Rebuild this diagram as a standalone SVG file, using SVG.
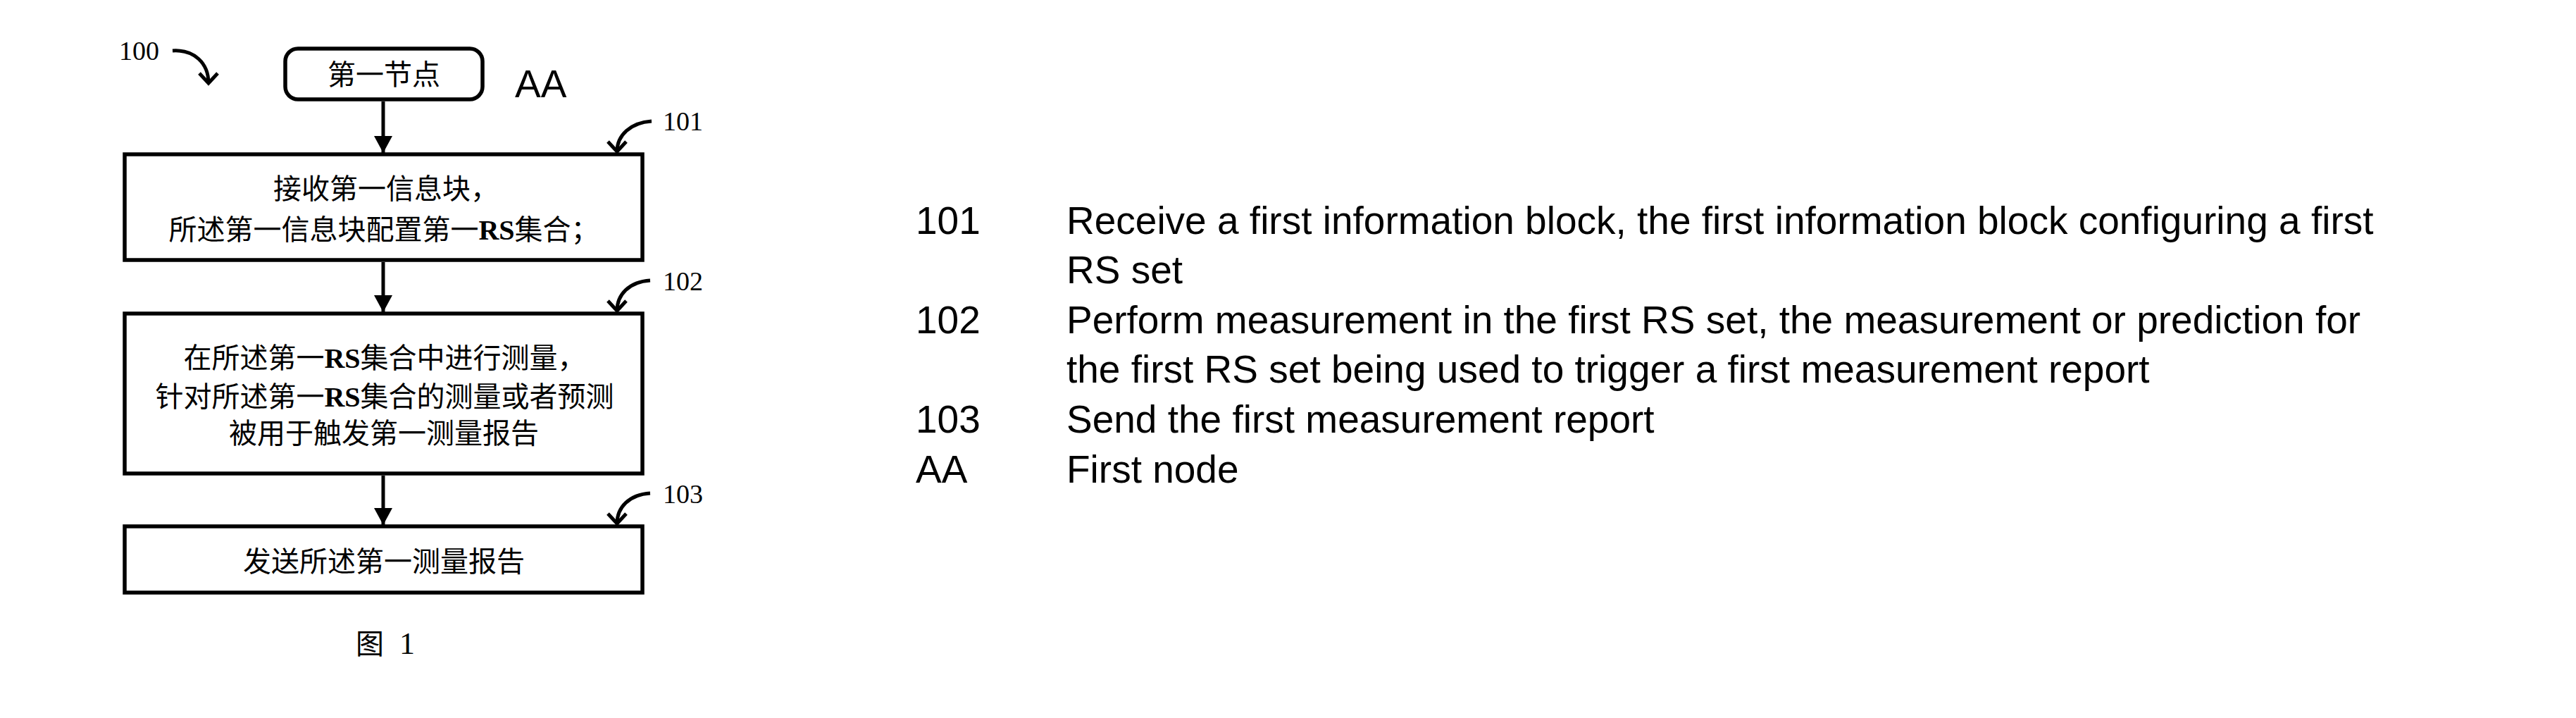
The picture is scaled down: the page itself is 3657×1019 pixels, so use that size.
<svg xmlns="http://www.w3.org/2000/svg" width="3657" height="1019" viewBox="0 0 3657 1019">
  <style>
    .box { fill: #fff; stroke: #000; stroke-width: 5.5; }
    .conn { fill: none; stroke: #000; stroke-width: 5; }
    .cjk { font-family: "Liberation Serif", "Noto Sans CJK SC", serif; font-size: 40px; text-anchor: middle; fill: #000; }
    .rs { font-weight: bold; }
    .lbl { font-family: "Liberation Serif", serif; font-size: 38px; fill: #000; }
    .en { font-family: "Liberation Sans", Arial, sans-serif; font-size: 55px; fill: #000; }
  </style>
  <defs>
    <marker id="tri" markerUnits="userSpaceOnUse" viewBox="-24 -13 24 26" markerWidth="24" markerHeight="26" refX="0" refY="0" orient="auto">
      <path d="M-24,-13 L0,0 L-24,13 Z" fill="#000"/>
    </marker>
    <marker id="vhead" markerUnits="userSpaceOnUse" viewBox="-20 -20 24 40" markerWidth="24" markerHeight="40" refX="0" refY="0" orient="auto">
      <path d="M-14,-13 L0,0 L-14,13" fill="none" stroke="#000" stroke-width="5" stroke-linejoin="miter"/>
    </marker>
  </defs>
  <rect width="3657" height="1019" fill="#fff"/>

  <g id="connectors">
    <path class="conn" d="M544,144 L544,217" marker-end="url(#tri)"/>
    <path class="conn" d="M544,372 L544,443" marker-end="url(#tri)"/>
    <path class="conn" d="M544,675 L544,745" marker-end="url(#tri)"/>
    <path class="conn" d="M245,72 C276,70 296,90 296,118" marker-end="url(#vhead)"/>
    <path class="conn" d="M925,172 C895,174 876,192 876,215" marker-end="url(#vhead)"/>
    <path class="conn" d="M923,398 C893,400 876,418 876,441" marker-end="url(#vhead)"/>
    <path class="conn" d="M923,700 C893,702 876,720 876,743" marker-end="url(#vhead)"/>
  </g>

  <g id="label-100">
    <text class="lbl" x="169" y="85" font-size="36">100</text>
  </g>

  <g id="node-AA">
    <rect class="box" x="405" y="69" width="280" height="72" rx="18" ry="18"/>
    <text class="cjk" x="545" y="120">第一节点</text>
    <text class="en" x="731" y="138">AA</text>
  </g>

  <g id="node-101">
    <rect class="box" x="177" y="219" width="735" height="150"/>
    <text class="cjk" x="548" y="282">接收第一信息块，</text>
    <text class="cjk" x="545" y="340">所述第一信息块配置第一<tspan class="rs">RS</tspan>集合；</text>
    <text class="lbl" x="941" y="185">101</text>
  </g>

  <g id="node-102">
    <rect class="box" x="177" y="445" width="735" height="227"/>
    <text class="cjk" x="546" y="522">在所述第一<tspan class="rs">RS</tspan>集合中进行测量，</text>
    <text class="cjk" x="546" y="577">针对所述第一<tspan class="rs">RS</tspan>集合的测量或者预测</text>
    <text class="cjk" x="545" y="629">被用于触发第一测量报告</text>
    <text class="lbl" x="941" y="412">102</text>
  </g>

  <g id="node-103">
    <rect class="box" x="177" y="747" width="735" height="94"/>
    <text class="cjk" x="545" y="811">发送所述第一测量报告</text>
    <text class="lbl" x="941" y="714">103</text>
  </g>

  <g id="caption">
    <text class="cjk" x="505" y="928" style="text-anchor:start">图 <tspan x="567" style="font-family:'Liberation Serif',serif" font-size="44">1</tspan></text>
  </g>

  <g id="legend">
    <text class="en" x="1300" y="332">101</text>
    <text class="en" x="1514" y="332">Receive a first information block, the first information block configuring a first</text>
    <text class="en" x="1514" y="402">RS set</text>
    <text class="en" x="1300" y="473">102</text>
    <text class="en" x="1514" y="473">Perform measurement in the first RS set, the measurement or prediction for</text>
    <text class="en" x="1514" y="543">the first RS set being used to trigger a first measurement report</text>
    <text class="en" x="1300" y="614">103</text>
    <text class="en" x="1514" y="614">Send the first measurement report</text>
    <text class="en" x="1300" y="685">AA</text>
    <text class="en" x="1514" y="685">First node</text>
  </g>
</svg>
